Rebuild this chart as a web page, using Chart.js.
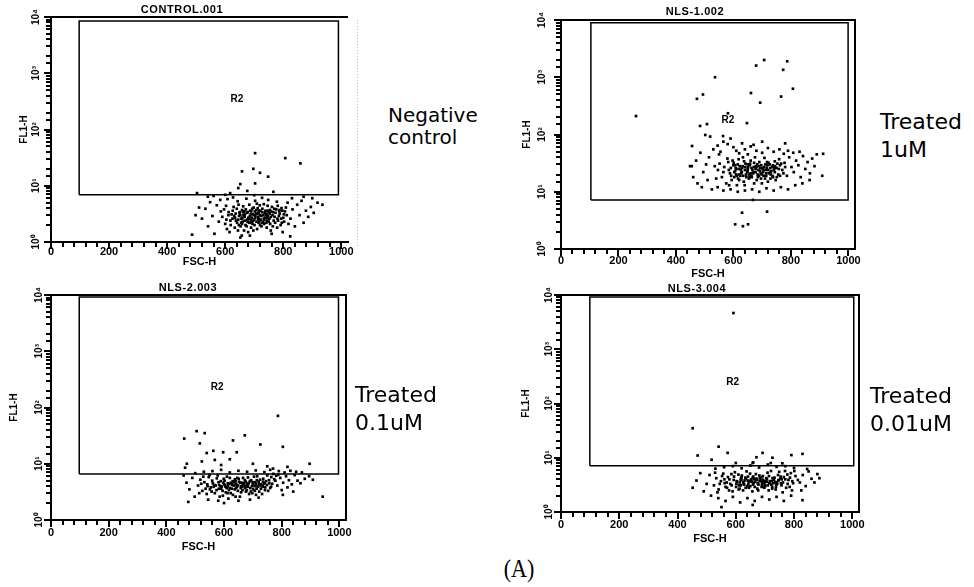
<!DOCTYPE html>
<html><head><meta charset="utf-8">
<script src="https://cdn.jsdelivr.net/npm/chart.js@4.4.0/dist/chart.umd.min.js"></script>
<style>
html,body{margin:0;padding:0;background:#fff;}
#page{position:relative;width:974px;height:587px;overflow:hidden;background:#fff;}
canvas{position:absolute;}
.ttl{position:absolute;font:bold 11px "Liberation Sans",Arial,sans-serif;letter-spacing:0.6px;transform:translate(-50%,-50%);white-space:nowrap;color:#000;}
.side{position:absolute;font:22px "DejaVu Sans",sans-serif;line-height:28px;color:#000;white-space:nowrap;}
.fig{position:absolute;font:26px "Liberation Serif",serif;transform:translate(-50%,-50%) scaleX(0.85);color:#000;white-space:nowrap;}
</style></head><body>
<div id="page"></div>
<script>
// ---------- tick labels ----------
const xTickValues = [0, 200, 400, 600, 800, 1000];
const xTickLabels = ['0', '200', '400', '600', '800', '1000'];
const yTickValues = [1, 10, 100, 1000, 10000];
const yTickLabels = ['10\u2070', '10\u00B9', '10\u00B2', '10\u00B3', '10\u2074'];
const panelTitles = ['CONTROL.001', 'NLS-1.002', 'NLS-2.003', 'NLS-3.004'];
const sideLabels = [['Negative', 'control'], ['Treated', '1uM'], ['Treated', '0.1uM'], ['Treated', '0.01uM']];
const gateName = 'R2';

// ---------- events [FSC-H, FL1-H] ----------
const ctrlEvents = [
[600,2.1],[612,3.4],[625,2.6],[633,1.8],[640,3.9],[648,2.9],[655,2.2],[662,4.3],[668,3.1],[674,1.9],
[680,2.7],[686,3.6],[692,2.3],[698,4.1],[704,2.9],[710,1.7],[716,3.3],[722,2.5],[728,3.9],[734,2.1],
[740,3.0],[746,4.4],[752,2.6],[758,3.5],[764,1.9],[770,2.8],[776,3.8],[782,2.4],[788,3.2],[794,4.0],
[800,2.7],[806,3.5],[590,2.8],[596,3.8],[606,1.7],[618,2.4],[629,4.2],[637,2.4],[644,1.6],[651,3.4],
[659,2.7],[665,1.6],[671,3.8],[677,2.3],[683,4.6],[689,1.8],[695,3.1],[701,2.0],[707,3.7],[713,2.6],
[719,4.5],[725,1.9],[731,3.0],[737,2.7],[743,1.8],[749,3.4],[755,2.1],[761,4.2],[767,2.4],[773,3.3],
[779,1.8],[785,2.9],[791,2.0],[797,3.6],[803,2.3],[812,3.0],[818,2.1],[585,3.5],[603,4.4],[615,1.5],
[622,3.1],[646,4.6],[653,1.9],[667,2.4],[679,1.5],[691,2.7],[697,1.6],[709,4.8],[721,3.6],[733,4.7],
[745,2.4],[757,1.6],[769,3.9],[781,4.4],[793,2.6],[809,4.1],[636,3.2],[658,3.7],[688,2.5],[715,2.2],
[739,3.6],[763,3.0],[787,3.7],
[604,2.5],[611,3.0],[619,2.0],[626,3.6],[634,2.7],[641,2.2],[649,3.3],[656,2.6],[663,3.0],[670,2.0],
[678,3.4],[685,2.9],[693,3.9],[700,2.5],[706,3.2],[714,2.8],[720,2.0],[727,3.4],[735,2.5],[742,3.1],
[750,2.3],[757,2.8],[765,3.4],[772,2.2],[780,2.6],[786,3.5],[795,2.2],[802,3.1],[666,3.5],[682,2.2],
[702,3.5],[718,2.4],[736,3.3],[754,3.7],[631,2.9],[647,2.0],[694,2.1],[712,4.0],[726,2.2],[744,2.7],
[645,2.5],[652,3.0],[660,2.3],[667,2.8],[675,3.3],[681,2.6],[688,3.1],[696,2.4],[703,2.7],[711,3.2],
[717,2.5],[724,2.9],[731,2.3],[738,3.4],[747,2.9],[753,3.2],[662,3.4],[690,3.5],[708,2.3],[733,2.6],
[676,2.5],[699,3.0],[720,3.0],[742,2.2],[658,2.1],[685,2.2],[715,3.6],[748,3.6],
[520,2.6],[532,3.9],[541,1.9],[548,5.1],[556,2.9],[563,1.4],[571,4.5],[578,2.3],[583,5.6],[608,5.8],
[627,6.2],[643,5.3],[657,1.3],[673,5.9],[685,1.3],[703,5.4],[727,6.1],[748,5.6],[760,1.4],[778,5.2],
[798,1.5],[815,5.0],[825,2.6],[832,3.8],[840,1.9],[848,4.6],[856,3.0],[863,5.4],[870,2.2],[878,3.6],
[886,2.8],[895,4.2],[905,3.3],[918,5.0],[935,4.6],[510,4.1],[498,3.0],[540,6.4],[560,6.6],[830,6.0],
[870,6.4],[900,6.0],[600,6.9],[700,6.8],
[703,38],[807,31],[859,25],[697,20],[658,18],[720,17],[748,14.5],[703,11],[652,10.7],[645,9.1],
[676,8.1],[766,7.8],[503,7.4],[617,7.4],[486,1.35],[824,1.26],[652,1.2]
];

const nls1Events = [
[560,18],[568,27],[575,14],[582,33],[588,21],[594,16],[600,29],[606,23],[612,13],[618,37],
[624,19],[630,26],[636,15],[642,31],[648,22],[654,17],[660,35],[666,24],[672,14],[678,28],
[684,20],[690,33],[696,17],[702,25],[708,39],[714,21],[720,15],[726,30],[732,23],[738,18],
[744,34],[750,26],[756,20],[762,29],[565,22],[579,38],[591,26],[603,18],[615,30],[627,21],
[639,13],[651,27],[663,19],[675,40],[687,24],[699,14],[711,30],[723,21],[735,27],[747,16],
[759,37],[585,13],[597,35],[609,20],[621,25],[633,40],[645,18],[657,29],[669,21],[681,16],
[693,26],[705,19],[717,33],[729,17],[741,24],[753,31],[546,24],[552,31],[540,17],[535,28],
[584,24],[592,19],[601,32],[608,26],[616,17],[622,28],[629,22],[637,34],[644,20],[650,25],
[658,31],[664,18],[671,27],[677,22],[683,30],[689,19],[697,29],[703,22],[710,17],[716,26],
[722,32],[730,20],[737,29],[744,22],[751,18],[758,25],[766,31],[774,21],[620,16],[655,20],
[688,28],[713,24],[745,28],[606,29],[640,24],[672,32],[700,26],[728,26],[762,19],[780,27],
[603,22],[611,25],[619,20],[626,24],[634,19],[641,27],[649,23],[656,18],[663,26],[670,22],
[677,25],[685,18],[692,23],[699,20],[707,27],[714,19],[721,24],[729,22],[736,19],[743,26],
[660,21],[680,27],[695,21],[718,29],[632,28],[612,19],[650,30],[705,24],
[770,24],[778,32],[786,19],[794,40],[802,27],[810,22],[818,35],[826,29],[834,18],[842,42],
[850,25],[858,33],[866,21],[874,38],[882,28],[890,45],[775,46],[790,52],[808,48],[830,50],
[760,55],[740,50],[720,58],[700,48],[680,52],[660,62],[640,55],[620,47],[600,60],[580,68],
[565,75],[590,85],[610,52],[630,70],[650,45],[550,45],[530,55],[515,40],[505,30],[495,22],
[485,48],[470,35],[455,28],[460,18],[475,14],[490,12],[510,16],[525,11],[545,12],[565,10.5],
[590,11],[615,10],[640,10.5],[665,11],[690,10],[715,11.5],[740,10.5],[765,12],[790,11],[815,13],
[840,14],[865,16],[555,50],[545,64],[780,70],[700,75],[670,66],
[536,1000],[679,1600],[707,2000],[787,1900],[773,1350],[807,630],[766,460],[661,530],[693,360],
[494,500],[473,420],[261,210],[581,235],[647,158],[484,141],[508,152],[502,98],[519,92],[456,63],
[564,94],[630,4.3],[717,4.5],[606,2.7],[633,2.5],[651,2.7],[668,7.2],[912,46],[909,19],[449,28]
];

const nls2Events = [
[510,4.1],[518,5.2],[525,3.3],[532,4.7],[540,2.9],[547,5.8],[554,3.8],[561,4.5],[568,3.0],[575,5.5],
[582,3.6],[589,4.9],[596,2.7],[603,4.2],[610,5.9],[617,3.4],[624,4.6],[631,2.8],[638,5.3],[645,3.9],
[652,4.8],[659,3.1],[666,5.6],[673,3.7],[680,4.4],[687,2.9],[694,5.1],[701,3.5],[708,4.7],[715,6.0],
[722,3.2],[729,4.3],[736,5.4],[743,3.8],[750,6.2],[757,4.5],[764,5.8],[771,6.6],[778,5.0],[785,4.1],
[514,3.0],[528,5.9],[543,4.0],[557,3.2],[571,4.1],[585,2.6],[599,5.4],[613,4.0],[627,3.6],[641,4.4],
[655,2.6],[669,4.1],[683,5.7],[697,4.0],[711,2.8],[725,5.2],[739,4.4],[753,3.3],[767,4.4],[781,6.1],
[521,4.4],[536,3.6],[550,6.3],[564,3.9],[578,6.2],[592,3.9],[606,3.1],[620,5.6],[634,4.1],[648,3.3],
[662,4.6],[676,3.2],[690,4.9],[704,5.9],[718,3.9],[732,2.9],[746,4.9],[760,3.7],[774,5.3],[788,6.4],
[542,4.3],[551,3.5],[559,5.0],[566,4.2],[574,3.4],[581,4.7],[588,4.0],[595,3.3],[602,5.0],[609,3.7],
[616,4.4],[623,3.0],[630,4.9],[637,3.5],[644,4.2],[651,5.4],[658,3.7],[665,4.3],[672,5.1],[679,3.4],
[686,4.6],[693,3.2],[700,4.4],[707,3.3],[714,5.1],[721,4.4],[728,3.6],[735,4.8],[742,3.4],[749,4.2],
[756,5.1],[763,3.9],[612,3.0],[628,4.4],[646,5.6],[664,3.4],[682,3.9],[698,3.0],[716,4.0],[734,4.1],
[583,4.2],[590,3.6],[598,4.6],[605,3.9],[613,4.5],[620,3.7],[627,4.2],[635,4.7],[642,3.7],[649,4.1],
[656,4.6],[663,3.9],[670,4.5],[677,4.0],[684,4.3],[691,3.7],[699,4.7],[706,4.0],[713,3.6],[720,4.8],
[727,4.1],[734,3.9],[741,4.6],[600,4.3],[640,4.9],[675,4.8],[710,4.4],[660,4.0],
[795,5.6],[805,4.6],[815,6.0],[825,5.1],[835,4.3],[845,6.3],[855,5.0],[865,4.5],[880,5.4],[895,6.0],
[908,5.2],[800,3.4],[820,3.8],[840,3.2],[470,4.6],[480,3.5],[490,5.6],[460,6.2],[498,2.6],[500,6.8],
[530,7.2],[560,7.4],[590,7.8],[620,7.0],[650,7.5],[680,7.2],[710,7.6],[740,7.1],[760,7.8],[770,8.2],
[790,7.4],[810,7.0],[830,7.5],[850,7.2],[870,7.0],[545,2.3],[580,2.2],[615,2.4],[650,2.2],[690,2.3],
[720,2.5],[600,2.0],[640,2.6],
[462,28],[505,38],[533,35],[516,23],[672,32],[631,26],[787,71],[726,22],[804,20],[563,17],
[597,16],[644,16],[471,10],[523,11],[700,10],[897,10],[620,12],[540,15.5],[568,11.7],[476,2.1],
[942,2.6],[804,2.8],[465,8.5],[590,9.5],[750,9.0],[820,8.8]
];

const nls3Events = [
[525,3.1],[533,4.2],[541,2.6],[549,3.7],[557,5.1],[565,2.9],[573,4.4],[581,3.3],[589,2.4],[597,5.4],
[605,3.6],[613,2.7],[621,4.7],[629,3.2],[637,5.6],[645,2.8],[653,4.0],[661,3.4],[669,5.0],[677,2.5],
[685,3.9],[693,4.6],[701,3.0],[709,5.3],[717,3.7],[725,2.7],[733,4.3],[741,3.5],[749,5.5],[757,3.1],
[765,4.4],[773,2.8],[781,3.9],[789,5.2],[797,3.4],[805,4.6],[813,3.9],[529,5.3],[545,3.3],[561,4.0],
[577,2.5],[593,3.9],[609,4.9],[625,2.5],[641,3.8],[657,2.4],[673,4.1],[689,2.9],[705,4.2],[721,5.7],
[737,2.6],[753,4.1],[769,5.7],[785,2.9],[801,5.7],[537,2.3],[553,4.6],[569,3.5],[585,5.0],[601,2.9],
[617,3.9],[633,4.3],[649,5.1],[665,2.9],[681,4.7],[697,3.5],[713,2.5],[729,3.4],[745,4.8],[761,2.3],
[777,4.9],[793,2.5],[617,3.1],[655,3.6],[690,3.3],
[562,3.4],[570,2.8],[578,4.0],[586,3.1],[594,4.5],[602,3.3],[610,2.6],[618,4.2],[626,3.5],[634,2.8],
[642,4.5],[650,3.0],[658,4.3],[666,3.6],[674,2.7],[682,3.7],[690,4.4],[698,2.8],[706,3.6],[714,4.6],
[722,3.2],[730,3.9],[738,2.9],[746,3.8],[754,4.5],[762,3.5],[770,4.0],[778,3.3],[786,4.3],[794,3.7],
[646,3.6],[662,4.0],[678,3.2],[694,3.9],[710,3.1],[726,4.2],[742,3.3],[758,4.0],[630,3.8],[614,3.5],
[603,3.7],[611,3.1],[619,3.9],[627,3.3],[635,4.1],[643,3.3],[651,3.8],[659,3.2],[667,4.1],[675,3.4],
[683,4.2],[691,3.6],[699,3.2],[707,4.0],[715,3.4],[723,3.7],[731,4.1],[739,3.2],[747,3.9],[755,3.4],
[640,3.0],[672,3.9],[700,3.7],[735,3.6],[620,4.4],[660,4.5],[690,3.0],[725,2.9],
[820,3.5],[830,4.8],[840,3.0],[850,5.6],[860,4.1],[870,3.5],[880,5.0],[887,4.2],[825,2.5],[845,6.2],
[500,3.3],[510,4.8],[490,2.4],[478,5.2],[465,3.8],[515,2.0],[540,1.8],[565,1.6],[590,1.9],[615,1.5],
[640,1.8],[665,1.6],[690,1.9],[715,1.7],[740,1.9],[765,1.6],[790,2.0],[551,1.23],[658,1.35],[829,1.65],
[530,6.3],[560,6.7],[590,7.0],[620,6.4],[650,7.2],[680,6.6],[710,7.5],[740,6.8],[770,7.0],[800,6.5],
[720,8.0],[660,8.2],[600,8.0],
[592,4650],[452,35],[541,16],[572,12.3],[469,11],[671,10.2],[692,12.3],[726,10],[791,11.2],[829,11.8],
[517,9.2],[760,7.9],[658,8],[452,2.8]
];

// ---------- gates (R2) : FSC-H range, FL1-H range, label anchor ----------
const ctrlGateX = [97, 990],  ctrlGateY = [6.9, 8500],  ctrlR2 = [640, 350];
const nls1GateX = [104, 999], nls1GateY = [7.2, 8970],  nls1R2 = [581, 175];
const nls2GateX = [98, 997],  nls2GateY = [6.6, 9200],  nls2R2 = [576, 230];
const nls3GateX = [99, 1005], nls3GateY = [7.1, 9200],  nls3R2 = [589, 250];

// ---------- layout (styles only) ----------
const FONT = '"Liberation Sans", Arial, sans-serif';
const panels = [
  {events: ctrlEvents, gx: ctrlGateX, gy: ctrlGateY, r2: ctrlR2, right: false, dotted: true,
   cx: 0, cy: 0, cw: 370, l: 51, r: 348, t: 17, b: 242, wy: 33, hx: 27, xpad: 3, ypad: 7,
   title: [182, 9], side: [388, 104], sideSize: 20, sideLH: 22},
  {events: nls1Events, gx: nls1GateX, gy: nls1GateY, r2: nls1R2, right: true, dotted: false,
   cx: 505, cy: 0, cw: 372, l: 561, r: 855, t: 20, b: 249, wy: 40, hx: 32, xpad: 5.5, ypad: 11,
   title: [695, 11], side: [880, 108], sideSize: 22, sideLH: 28},
  {events: nls2Events, gx: nls2GateX, gy: nls2GateY, r2: nls2R2, right: true, dotted: false,
   cx: 0, cy: 280, cw: 364, l: 51, r: 346, t: 295, b: 520, wy: 43, hx: 34, xpad: 6.5, ypad: 4,
   title: [188, 287], side: [355, 381], sideSize: 22, sideLH: 28},
  {events: nls3Events, gx: nls3GateX, gy: nls3GateY, r2: nls3R2, right: true, dotted: false,
   cx: 505, cy: 280, cw: 372, l: 561, r: 859, t: 295, b: 512, wy: 41, hx: 34, xpad: 6.5, ypad: 4,
   title: [697, 287.5], side: [870, 382], sideSize: 22, sideLH: 28}
];

// frame (top / right edges) + tick marks placed from the chart's own scale ticks
const framePlugin = {
  id: 'frame',
  afterDraw(chart, args, opts) {
    const {ctx, chartArea: a, scales: {x, y}} = chart;
    ctx.save();
    ctx.setLineDash([]);
    ctx.globalAlpha = 1;
    ctx.strokeStyle = '#000000'; ctx.lineWidth = 2;
    ctx.beginPath();
    ctx.moveTo(a.left, a.top); ctx.lineTo(a.right, a.top);
    if (opts.right) ctx.lineTo(a.right, a.bottom);
    ctx.stroke();
    ctx.fillStyle = '#000000';
    x.getTicks().forEach(t => {
      const px = Math.round(x.getPixelForValue(t.value));
      const len = xTickValues.includes(t.value) ? 7 : 5;
      ctx.fillRect(px - 1, a.bottom, 2, len);
    });
    y.getTicks().forEach(t => {
      const py = Math.round(y.getPixelForValue(t.value));
      const len = isPow10(t.value) >= 0 ? 7 : 5;
      ctx.fillRect(a.left - len, py - 1, len, 2);
    });
    if (opts.dotted) {
      ctx.strokeStyle = '#bdbdbd'; ctx.lineWidth = 1; ctx.setLineDash([1, 2]);
      ctx.beginPath();
      ctx.moveTo(a.right + 9.5, a.top + 3); ctx.lineTo(a.right + 9.5, a.bottom + 4);
      ctx.stroke();
    }
    ctx.restore();
  }
};
const gateLabelPlugin = {
  id: 'gateLabel',
  afterDatasetsDraw(chart, args, opts) {
    const {ctx, scales: {x, y}} = chart;
    ctx.save();
    ctx.font = 'bold 10px ' + FONT;
    ctx.fillStyle = '#000'; ctx.textAlign = 'center'; ctx.textBaseline = 'middle';
    ctx.fillText(opts.text, x.getPixelForValue(opts.at[0]), y.getPixelForValue(opts.at[1]));
    ctx.restore();
  }
};

function gatePath(gx, gy) {
  return [{x: gx[0], y: gy[0]}, {x: gx[0], y: gy[1]}, {x: gx[1], y: gy[1]}, {x: gx[1], y: gy[0]}, {x: gx[0], y: gy[0]}];
}
function isPow10(v) { const e = Math.round(Math.log10(v)); return Math.abs(v - Math.pow(10, e)) < 1e-6 ? e : -1; }

const page = document.getElementById('page');
panels.forEach((p, i) => {
  const c = document.createElement('canvas');
  const ch = p.b - p.cy + p.hx;
  c.width = p.cw; c.height = ch;
  c.style.left = p.cx + 'px'; c.style.top = p.cy + 'px';
  c.style.width = p.cw + 'px'; c.style.height = ch + 'px';
  page.appendChild(c);

  new Chart(c, {
    type: 'scatter',
    data: {datasets: [
      {data: p.events.map(([x, y]) => ({x, y})), pointRadius: 1.9, pointHoverRadius: 1.9,
       pointStyle: 'rect', backgroundColor: '#000', borderWidth: 0},
      {data: gatePath(p.gx, p.gy), showLine: true, pointRadius: 0, borderColor: '#000',
       borderWidth: 1.5, fill: false, tension: 0}
    ]},
    options: {
      responsive: false, animation: false, events: [],
      layout: {padding: {left: p.l - p.cx - p.wy, right: p.cx + p.cw - p.r, top: p.t - p.cy, bottom: 0}},
      plugins: {legend: {display: false}, tooltip: {enabled: false},
        frame: {right: p.right, dotted: p.dotted}, gateLabel: {text: gateName, at: p.r2}},
      scales: {
        x: {type: 'linear', min: 0, max: 1023,
          afterFit(s) { s.height = p.hx; },
          border: {display: true, color: '#000', width: 2},
          grid: {display: false, drawTicks: false},
          ticks: {stepSize: 40, includeBounds: false, autoSkip: false, minRotation: 0, maxRotation: 0,
            padding: p.xpad, color: '#000', font: {family: FONT, size: 11, weight: 'bold'},
            callback: (v) => { const k = xTickValues.indexOf(v); return k >= 0 ? xTickLabels[k] : ''; }},
          title: {display: true, text: 'FSC-H', color: '#000', padding: 0,
            font: {family: FONT, size: 11, weight: 'bold'}}
        },
        y: {type: 'logarithmic', min: 1, max: 10000,
          afterFit(s) { s.width = p.wy; },
          border: {display: true, color: '#000', width: 2},
          grid: {display: false, drawTicks: false},
          ticks: {autoSkip: false, minRotation: 90, maxRotation: 90, crossAlign: 'center',
            padding: p.ypad, color: '#000', font: {family: FONT, size: 10, weight: 'bold'},
            callback: (v) => { const e = isPow10(v); const k = yTickValues.indexOf(Math.pow(10, e)); return (e >= 0 && k >= 0) ? yTickLabels[k] : ''; }},
          title: {display: true, text: 'FL1-H', color: '#000', padding: 0,
            font: {family: FONT, size: 10, weight: 'bold'}}
        }
      }
    },
    plugins: [framePlugin, gateLabelPlugin]
  });

  const t = document.createElement('div');
  t.className = 'ttl'; t.textContent = panelTitles[i];
  t.style.left = p.title[0] + 'px'; t.style.top = p.title[1] + 'px';
  page.appendChild(t);

  const s = document.createElement('div');
  s.className = 'side';
  s.style.left = p.side[0] + 'px'; s.style.top = p.side[1] + 'px';
  s.style.fontSize = p.sideSize + 'px'; s.style.lineHeight = p.sideLH + 'px';
  s.innerHTML = sideLabels[i].join('<br>');
  page.appendChild(s);
});

const fig = document.createElement('div');
fig.className = 'fig'; fig.textContent = '(A)';
fig.style.left = '519px'; fig.style.top = '569px';
page.appendChild(fig);
</script>
</body></html>
